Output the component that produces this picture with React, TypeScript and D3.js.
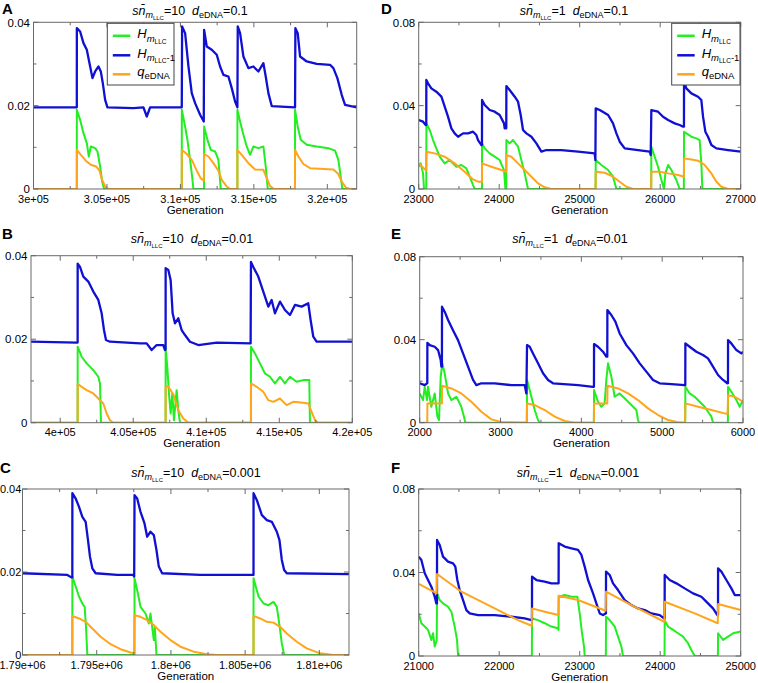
import React from "react";
import * as d3 from "d3";

type Pt = [number, number];

// ---------- Panel A (sn=10, d=0.1) ----------
const A_blue: Pt[] = [[300000,0.0196],[302948,0.0196],[302950,0.0386],[303175,0.0378],[303402,0.035],[303629,0.0334],[303856,0.0294],[304014,0.0266],[304196,0.0282],[304423,0.0294],[304582,0.0282],[304717,0.0254],[304876,0.0214],[305035,0.0196],[306804,0.0194],[307484,0.0196],[307711,0.0174],[307938,0.0196],[310093,0.0196],[310115,0.039],[310320,0.0374],[310547,0.0294],[310773,0.023],[311000,0.0206],[311340,0.0178],[311590,0.0162],[311612,0.0382],[311794,0.0342],[312134,0.0334],[312474,0.0322],[312701,0.0294],[312928,0.0274],[313268,0.027],[313495,0.0242],[313722,0.021],[313880,0.0196],[313903,0.039],[314062,0.0374],[314288,0.0318],[314628,0.029],[314969,0.0294],[315309,0.0282],[315649,0.0302],[315808,0.027],[315989,0.023],[316216,0.0199],[317804,0.0196],[317826,0.0386],[317985,0.0374],[318144,0.0318],[318598,0.0306],[319278,0.030],[320185,0.0298],[320412,0.029],[320684,0.0266],[320979,0.0226],[321206,0.0202],[322000,0.0196]];
const A_green: Pt[] = [[300000,0],[302948,0],[302950,0.019],[303175,0.0166],[303402,0.0134],[303629,0.011],[303765,0.0078],[303901,0.0102],[304196,0.0098],[304355,0.009],[304536,0.0054],[304672,0.0018],[304808,0],[310093,0],[310095,0.019],[310320,0.015],[310479,0.0118],[310660,0.007],[310796,0.003],[310886,0],[311610,0],[311612,0.015],[311839,0.0118],[312066,0.0094],[312361,0.009],[312588,0.007],[312746,0],[313878,0],[313880,0.019],[314062,0.0162],[314288,0.013],[314515,0.0102],[314742,0.0082],[314969,0.0102],[315309,0.0098],[315649,0.0102],[315808,0.0054],[315944,0],[317802,0],[317804,0.019],[317985,0.015],[318190,0.0118],[318598,0.0106],[319278,0.0102],[320072,0.0098],[320525,0.0092],[320752,0.007],[320911,0.003],[321024,0],[322000,0]];
const A_orange: Pt[] = [[300000,0],[302948,0],[302950,0.0094],[303221,0.0082],[303561,0.0068],[303901,0.0058],[304264,0.0054],[304490,0.0044],[304672,0.0022],[304876,0.0006],[305103,0],[310093,0],[310095,0.0094],[310433,0.0084],[310773,0.007],[311113,0.0044],[311385,0.0026],[311590,0.002],[311612,0.0084],[311907,0.0078],[312247,0.0062],[312588,0.0044],[312814,0.0022],[313154,0.0006],[313381,0],[313878,0],[313880,0.0094],[314243,0.0079],[314628,0.0062],[315082,0.0047],[315649,0.0046],[315876,0.0026],[316103,0.0007],[316375,0],[317802,0],[317804,0.0094],[318030,0.0078],[318371,0.006],[318825,0.005],[320412,0.0047],[320752,0.0036],[320979,0.0018],[321274,0.0003],[321546,0],[322000,0]];

// ---------- Panel B (sn=10, d=0.01) ----------
const B_blue: Pt[] = [[398000,0.0194],[401126,0.0192],[401193,0.0192],[401195,0.0381],[401355,0.0373],[401583,0.035],[401925,0.0338],[402267,0.0314],[402610,0.0294],[402838,0.0262],[402998,0.0222],[403134,0.0198],[403408,0.0194],[405462,0.019],[405919,0.019],[406261,0.0174],[406603,0.0186],[407059,0.0186],[407174,0.0174],[407217,0.0176],[407219,0.037],[407402,0.0366],[407561,0.0342],[407698,0.0262],[407858,0.0238],[408086,0.025],[408315,0.0222],[408543,0.021],[408885,0.0194],[409456,0.0186],[410711,0.0192],[413038,0.019],[413061,0.0385],[413221,0.0373],[413563,0.035],[413906,0.0314],[414248,0.0278],[414476,0.0294],[414704,0.0262],[415047,0.029],[415389,0.027],[415731,0.0258],[416074,0.0282],[416530,0.0278],[416986,0.0286],[417146,0.0246],[417329,0.0206],[417557,0.0194],[420000,0.0194]];
const B_green: Pt[] = [[398000,0],[401193,0],[401195,0.0182],[401469,0.0158],[401811,0.0142],[402267,0.0126],[402610,0.011],[402724,0.0094],[402792,0],[407217,0],[407219,0.0178],[407333,0.0134],[407447,0.007],[407561,0.0022],[407675,0.007],[407789,0.0006],[407972,0.0078],[408086,0.003],[408200,0],[413059,0],[413061,0.0182],[413335,0.0166],[413677,0.0142],[414020,0.0118],[414362,0.011],[414704,0.0094],[415047,0.011],[415389,0.0094],[415731,0.011],[416188,0.0098],[416644,0.0102],[417055,0.0102],[417100,0],[420000,0]];
const B_orange: Pt[] = [[398000,0],[401193,0],[401195,0.0093],[401469,0.0086],[401811,0.0078],[402267,0.007],[402610,0.0058],[402952,0.0046],[403180,0.0022],[403408,0.0006],[403637,0],[407217,0],[407219,0.0088],[407402,0.0086],[407744,0.0068],[408086,0.003],[408429,0.001],[408771,0],[413059,0],[413061,0.0094],[413449,0.0086],[413906,0.0074],[414248,0.0054],[414590,0.005],[415047,0.0058],[415503,0.0042],[415959,0.005],[416644,0.0048],[416986,0.0046],[417215,0.0026],[417443,0.0006],[417671,0],[420000,0]];

// ---------- Panel C (sn=10, d=0.001) ----------
const C_blue: Pt[] = [[1790000,0.0197],[1793024,0.0193],[1793293,0.0187],[1793358,0.0187],[1793360,0.039],[1793584,0.0377],[1793808,0.0357],[1794032,0.0333],[1794256,0.0321],[1794413,0.0277],[1794547,0.0237],[1794704,0.0209],[1794928,0.0197],[1796384,0.0193],[1797459,0.0193],[1797526,0.0189],[1797549,0.0385],[1797728,0.0377],[1797952,0.0345],[1798221,0.0317],[1798400,0.0285],[1798624,0.0297],[1798848,0.0289],[1799027,0.0253],[1799184,0.0213],[1799408,0.0197],[1801984,0.0193],[1803776,0.0193],[1805523,0.0193],[1805566,0.0193],[1805568,0.039],[1805792,0.0373],[1806128,0.0337],[1806464,0.0325],[1806800,0.0321],[1807136,0.0297],[1807315,0.0277],[1807472,0.0229],[1807629,0.0205],[1807808,0.0197],[1812000,0.0195]];
const C_green: Pt[] = [[1790000,0],[1793358,0],[1793360,0.0189],[1793584,0.0165],[1793808,0.0141],[1794032,0.0124],[1794189,0.0116],[1794278,0.0068],[1794368,0],[1797547,0],[1797549,0.0185],[1797773,0.0149],[1797952,0.0116],[1798288,0.01],[1798512,0.0076],[1798624,0.01],[1798848,0.0036],[1798915,0.0068],[1799027,0],[1805566,0],[1805568,0.0185],[1805904,0.0141],[1806240,0.0124],[1806576,0.012],[1806912,0.0128],[1807136,0.0116],[1807315,0.0072],[1807472,0.0028],[1807629,0],[1812000,0]];
const C_orange: Pt[] = [[1790000,0],[1793358,0],[1793360,0.0094],[1793808,0.0088],[1794256,0.008],[1794704,0.0064],[1795264,0.0044],[1795936,0.0026],[1796608,0.0014],[1797280,0.0006],[1797526,0.0004],[1797549,0.0096],[1797952,0.0092],[1798400,0.0084],[1798848,0.0072],[1799296,0.0056],[1799968,0.0036],[1800640,0.002],[1801536,0.0008],[1802432,0.0002],[1803104,0],[1805566,0],[1805568,0.0094],[1806016,0.0088],[1806464,0.008],[1806912,0.0078],[1807360,0.0068],[1807808,0.0052],[1808480,0.0032],[1809152,0.0016],[1810048,0.0004],[1810944,0],[1812000,0]];

// ---------- Panel D (sn=1, d=0.1) ----------
const D_blue: Pt[] = [[23000,0.0331],[23054,0.0323],[23087,0.0307],[23094,0.0307],[23095,0.0523],[23116,0.0507],[23157,0.0483],[23219,0.0467],[23282,0.0443],[23323,0.0395],[23364,0.0347],[23406,0.0291],[23447,0.0267],[23489,0.0251],[23551,0.0267],[23613,0.0267],[23675,0.0275],[23716,0.0259],[23737,0.0235],[23779,0.0211],[23786,0.0211],[23787,0.0427],[23820,0.0403],[23882,0.0379],[23944,0.0371],[24006,0.0355],[24060,0.0315],[24068,0.0291],[24088,0.0291],[24089,0.0494],[24130,0.0475],[24193,0.0443],[24234,0.0419],[24267,0.0355],[24296,0.0283],[24338,0.0267],[24400,0.0251],[24462,0.0219],[24524,0.0179],[24586,0.0187],[24772,0.0187],[24979,0.0179],[25186,0.0171],[25195,0.0139],[25199,0.0387],[25249,0.0379],[25353,0.0355],[25414,0.0315],[25456,0.0267],[25497,0.0227],[25559,0.0195],[25725,0.0187],[25870,0.0179],[25882,0.0163],[25890,0.0379],[25973,0.0371],[26035,0.0347],[26098,0.0331],[26180,0.0315],[26242,0.0307],[26284,0.0299],[26295,0.0299],[26296,0.0515],[26325,0.0483],[26387,0.0459],[26470,0.0443],[26511,0.0427],[26532,0.0347],[26561,0.0275],[26594,0.0251],[26636,0.0211],[26698,0.0195],[26843,0.0187],[27000,0.0179]];
const D_green: Pt[] = [[23000,0.0107],[23025,0.0123],[23054,0.0075],[23066,0],[23094,0],[23096,0.0315],[23137,0.0283],[23178,0.0235],[23219,0.0195],[23261,0.0155],[23323,0.0123],[23385,0.0139],[23468,0.0107],[23530,0.0115],[23592,0.0099],[23634,0.0059],[23675,0.0019],[23696,0],[23786,0],[23787,0.0219],[23820,0.0195],[23882,0.0171],[23944,0.0155],[24006,0.0139],[24060,0.0091],[24077,0],[24088,0],[24089,0.0235],[24130,0.0219],[24172,0.0235],[24234,0.0203],[24275,0.0139],[24317,0.0075],[24358,0],[25197,0],[25199,0.0139],[25269,0.0115],[25353,0.0091],[25414,0.0059],[25456,0],[25888,0],[25890,0.0203],[25932,0.0155],[25973,0.0107],[26015,0.0043],[26048,0],[26064,0.0075],[26098,0.0115],[26139,0.0091],[26201,0.0043],[26242,0],[26294,0],[26296,0.0275],[26325,0.0267],[26387,0.0251],[26449,0.0243],[26490,0.0235],[26511,0.0123],[26524,0],[27000,0]];
const D_orange: Pt[] = [[23000,0.0123],[23087,0.0091],[23094,0.0091],[23095,0.0179],[23199,0.0171],[23323,0.0155],[23447,0.0123],[23571,0.0083],[23675,0.0046],[23737,0.0035],[23786,0.0035],[23787,0.0123],[23903,0.0107],[24027,0.0091],[24088,0.0083],[24089,0.0163],[24151,0.0155],[24234,0.0123],[24317,0.0091],[24400,0.0059],[24482,0.0027],[24565,0.0008],[24648,0],[25197,0],[25199,0.0083],[25311,0.0078],[25414,0.0059],[25497,0.0035],[25580,0.0011],[25663,0],[25888,0],[25890,0.0083],[25994,0.0083],[26098,0.0075],[26222,0.0067],[26295,0.0059],[26296,0.0147],[26387,0.0142],[26470,0.0136],[26553,0.0115],[26636,0.0075],[26698,0.0035],[26760,0.0011],[26843,0],[27000,0]];

// ---------- Panel E (sn=1, d=0.01) ----------
const E_blue: Pt[] = [[2000,0.019],[2062,0.0181],[2091,0.019],[2094,0.019],[2095,0.0385],[2124,0.0374],[2186,0.0366],[2227,0.035],[2260,0.0302],[2268,0.027],[2275,0.027],[2276,0.0559],[2309,0.0535],[2351,0.0495],[2412,0.0446],[2474,0.0398],[2536,0.0334],[2598,0.027],[2660,0.0206],[2701,0.0181],[2763,0.019],[2928,0.019],[3134,0.0181],[3299,0.0181],[3320,0.0141],[3328,0.0374],[3361,0.0366],[3402,0.0334],[3464,0.0286],[3526,0.0238],[3588,0.0206],[3650,0.019],[3959,0.0181],[4144,0.0173],[4156,0.0173],[4157,0.0379],[4206,0.0366],[4268,0.0342],[4309,0.0318],[4321,0.0318],[4322,0.0543],[4371,0.0519],[4421,0.0487],[4474,0.043],[4557,0.0374],[4639,0.0334],[4722,0.0286],[4804,0.0246],[4887,0.0206],[4969,0.019],[5114,0.0186],[5278,0.0181],[5286,0.0181],[5287,0.0382],[5340,0.0366],[5423,0.0342],[5505,0.0326],[5567,0.031],[5629,0.027],[5691,0.023],[5753,0.0206],[5806,0.019],[5814,0.019],[5815,0.0398],[5856,0.0382],[5918,0.035],[5980,0.0334],[6000,0.0342]];
const E_green: Pt[] = [[2000,0.0141],[2041,0.0109],[2062,0.0173],[2091,0.0109],[2103,0.0173],[2144,0.0077],[2186,0.0141],[2219,0.0029],[2239,0.0013],[2260,0.0222],[2280,0.0286],[2309,0.0238],[2351,0.0141],[2392,0.0109],[2454,0.0125],[2515,0.0077],[2548,0.0029],[2565,0],[3326,0],[3328,0.0206],[3382,0.0125],[3423,0.0061],[3464,0.0013],[3485,0],[4155,0],[4157,0.0157],[4206,0.0101],[4247,0.0077],[4288,0.0093],[4309,0.0206],[4330,0.0286],[4371,0.0222],[4412,0.0125],[4474,0.0141],[4557,0.0109],[4619,0.0085],[4681,0.0061],[4701,0.0013],[4714,0],[5285,0],[5287,0.0173],[5340,0.0141],[5402,0.0125],[5464,0.0101],[5526,0.0077],[5567,0.0053],[5609,0.0029],[5629,0],[5813,0],[5815,0.0173],[5856,0.0149],[5918,0.0109],[5959,0.0077],[6000,0.0109]];
const E_orange: Pt[] = [[2000,0],[2094,0],[2095,0.0093],[2275,0.0093],[2276,0.0178],[2392,0.0165],[2515,0.0141],[2639,0.0101],[2763,0.0053],[2887,0.0016],[3010,0.0003],[3324,0],[3328,0.0093],[3423,0.0085],[3547,0.0061],[3670,0.0029],[3794,0.0008],[3918,0],[4155,0],[4157,0.0093],[4321,0.0093],[4324,0.0178],[4454,0.0165],[4577,0.0141],[4701,0.0109],[4825,0.0069],[4949,0.0037],[5072,0.0013],[5196,0.0002],[5283,0],[5287,0.0093],[5444,0.0077],[5609,0.0061],[5773,0.0045],[5810,0.0042],[5815,0.0133],[5897,0.0125],[6000,0.0101]];

// ---------- Panel F (sn=1, d=0.001) ----------
const F_blue: Pt[] = [[21000,0.0476],[21033,0.046],[21075,0.0396],[21116,0.0364],[21157,0.0332],[21199,0.0284],[21219,0.0252],[21227,0.0252],[21228,0.0556],[21261,0.0532],[21302,0.0476],[21364,0.0452],[21427,0.0444],[21455,0.0428],[21480,0.0364],[21509,0.0316],[21551,0.0268],[21592,0.022],[21634,0.0204],[21737,0.0196],[21944,0.0196],[22151,0.0188],[22317,0.018],[22400,0.0172],[22407,0.0172],[22408,0.038],[22462,0.0364],[22565,0.0356],[22648,0.0348],[22731,0.0348],[22738,0.0348],[22739,0.054],[22814,0.0524],[22897,0.0516],[22979,0.0508],[23021,0.0484],[23062,0.0428],[23104,0.0364],[23166,0.03],[23207,0.0252],[23249,0.0204],[23290,0.0196],[23323,0.0204],[23326,0.0204],[23327,0.0404],[23373,0.0388],[23414,0.0348],[23476,0.0316],[23559,0.0268],[23642,0.0244],[23725,0.0228],[23808,0.022],[23890,0.0204],[23994,0.0196],[24048,0.018],[24055,0.018],[24056,0.0388],[24118,0.0364],[24201,0.0348],[24304,0.0324],[24408,0.03],[24512,0.0284],[24594,0.0252],[24656,0.0228],[24710,0.0196],[24718,0.0196],[24719,0.042],[24760,0.0404],[24822,0.0364],[24884,0.0324],[24926,0.0292],[25000,0.0292]];
const F_green: Pt[] = [[21000,0.0204],[21033,0.0157],[21075,0.0141],[21116,0.0125],[21157,0.0077],[21178,0.0109],[21199,0.0045],[21224,0.0077],[21228,0.03],[21261,0.0268],[21302,0.0252],[21364,0.0236],[21406,0.0212],[21447,0.0141],[21476,0.0077],[21489,0],[22406,0],[22408,0.018],[22482,0.0172],[22565,0.0157],[22648,0.0141],[22731,0.0133],[22737,0.0125],[22739,0.0284],[22814,0.0292],[22897,0.0284],[22971,0.0284],[23000,0.0204],[23029,0.0109],[23054,0.0045],[23062,0],[23325,0],[23327,0.0188],[23373,0.0172],[23435,0.0141],[23476,0.0093],[23518,0.0045],[23538,0],[24054,0],[24056,0.0172],[24097,0.0141],[24160,0.0125],[24222,0.0109],[24284,0.0093],[24346,0.0061],[24387,0.0029],[24429,0],[24717,0],[24719,0.0109],[24781,0.0077],[24843,0.0093],[24905,0.0109],[25000,0.0117]];
const F_orange: Pt[] = [[21000,0.0345],[21224,0.03],[21228,0.0393],[21530,0.0308],[21944,0.0228],[22234,0.0172],[22404,0.0145],[22408,0.0228],[22565,0.0212],[22735,0.0196],[22739,0.0289],[22979,0.0268],[23323,0.0217],[23327,0.0308],[23642,0.0244],[24052,0.0164],[24056,0.026],[24429,0.0204],[24715,0.0157],[24719,0.0249],[25000,0.022]];

// ---------- axes ----------
const xTicksA = [300000, 305000, 310000, 315000, 320000];
const xLabelsA = ["3e+05", "3.05e+05", "3.1e+05", "3.15e+05", "3.2e+05"];
const xMinorA = [302500, 307500, 312500, 317500];
const xTicksB = [400000, 405000, 410000, 415000, 420000];
const xLabelsB = ["4e+05", "4.05e+05", "4.1e+05", "4.15e+05", "4.2e+05"];
const xMinorB = [402500, 407500, 412500, 417500];
const xTicksC = [1790000, 1795000, 1800000, 1805000, 1810000];
const xLabelsC = ["1.79e+06", "1.795e+06", "1.8e+06", "1.805e+06", "1.81e+06"];
const xMinorC = [1792500, 1797500, 1802500, 1807500];
const xTicksD = [23000, 24000, 25000, 26000, 27000];
const xTicksE = [2000, 3000, 4000, 5000, 6000];
const xTicksF = [21000, 22000, 23000, 24000, 25000];
const yTicksLeft = [0, 0.02, 0.04];
const yLabelsLeft = ["0", "0.02", "0.04"];
const yMinorLeft = [0.01, 0.03];
const yTicksRight = [0, 0.04, 0.08];
const yLabelsRight = ["0", "0.04", "0.08"];
const yMinorRight = [0.02, 0.06];

const snValues = ["10", "10", "10", "1", "1", "1"];
const dValues = ["0.1", "0.01", "0.001", "0.1", "0.01", "0.001"];
const panelLabels = ["A", "B", "C", "D", "E", "F"];

const GREEN = "#22ee22";
const BLUE = "#1010d2";
const ORANGE = "#ffa51c";
const FRAME = "#6a6a6a";
const FONT = "'Liberation Sans', Arial, Helvetica, sans-serif";

interface PanelCfg {
  idx: number;
  frame: [number, number, number, number];
  xDomain: [number, number];
  yMax: number;
  xTicks: number[]; xLabels: string[]; xMinor: number[];
  yTicks: number[]; yLabels: string[]; yMinor: number[];
  green: Pt[]; blue: Pt[]; orange: Pt[];
  titleX: number; titleY: number;
  labelX: number; labelY: number;
  yGap: number; yFont: number;
  legend?: [number, number, number, number];
}

const panels: PanelCfg[] = [
  { idx: 0, frame: [33.5, 356.7, 22.3, 189], xDomain: [300000, 322000], yMax: 0.04,
    xTicks: xTicksA, xLabels: xLabelsA, xMinor: xMinorA, yTicks: yTicksLeft, yLabels: yLabelsLeft, yMinor: yMinorLeft,
    green: A_green, blue: A_blue, orange: A_orange, titleX: 190, titleY: 15, labelX: 2, labelY: 14, yGap: 3.5, yFont: 11.5,
    legend: [107.3, 23.3, 66.7, 61.7] },
  { idx: 1, frame: [31, 352.3, 255.7, 422.7], xDomain: [398000, 420000], yMax: 0.04,
    xTicks: xTicksB, xLabels: xLabelsB, xMinor: xMinorB, yTicks: yTicksLeft, yLabels: yLabelsLeft, yMinor: yMinorLeft,
    green: B_green, blue: B_blue, orange: B_orange, titleX: 192, titleY: 243, labelX: 2, labelY: 239, yGap: 3.5, yFont: 11.5 },
  { idx: 2, frame: [22.5, 349, 489, 655], xDomain: [1790000, 1812000], yMax: 0.04,
    xTicks: xTicksC, xLabels: xLabelsC, xMinor: xMinorC, yTicks: yTicksLeft, yLabels: yLabelsLeft, yMinor: yMinorLeft,
    green: C_green, blue: C_blue, orange: C_orange, titleX: 196, titleY: 477, labelX: 0, labelY: 473, yGap: 1.2, yFont: 11 },
  { idx: 3, frame: [418.7, 740.7, 22.3, 189], xDomain: [23000, 27000], yMax: 0.08,
    xTicks: xTicksD, xLabels: xTicksD.map(String), xMinor: xTicksD.slice(0, 4).map(v => v + 500), yTicks: yTicksRight, yLabels: yLabelsRight, yMinor: yMinorRight,
    green: D_green, blue: D_blue, orange: D_orange, titleX: 574, titleY: 15, labelX: 381, labelY: 14, yGap: 3.5, yFont: 11.5,
    legend: [671.7, 23.3, 68.3, 61.7] },
  { idx: 4, frame: [419.7, 743, 256.7, 422.7], xDomain: [2000, 6000], yMax: 0.08,
    xTicks: xTicksE, xLabels: xTicksE.map(String), xMinor: xTicksE.slice(0, 4).map(v => v + 500), yTicks: yTicksRight, yLabels: yLabelsRight, yMinor: yMinorRight,
    green: E_green, blue: E_blue, orange: E_orange, titleX: 570, titleY: 243, labelX: 391, labelY: 239, yGap: 3.5, yFont: 11.5 },
  { idx: 5, frame: [418.7, 740.7, 489, 656], xDomain: [21000, 25000], yMax: 0.08,
    xTicks: xTicksF, xLabels: xTicksF.map(String), xMinor: xTicksF.slice(0, 4).map(v => v + 500), yTicks: yTicksRight, yLabels: yLabelsRight, yMinor: yMinorRight,
    green: F_green, blue: F_blue, orange: F_orange, titleX: 578, titleY: 477, labelX: 391, labelY: 473, yGap: 3.5, yFont: 11.5 },
];

function HLabel({ x, y, minus }: { x: number; y: number; minus?: boolean }) {
  return (
    <text x={x} y={y} fontFamily={FONT} fontSize={13} fill="#000">
      <tspan fontStyle="italic">H</tspan>
      <tspan fontStyle="italic" fontSize={9.5} dy={3.5}>m</tspan>
      <tspan fontSize={6.5} dy={2}>LLC</tspan>
      {minus ? <tspan fontSize={9.5} dy={-2}>-1</tspan> : null}
    </text>
  );
}

function Panel({ p }: { p: PanelCfg }) {
  const [l, r, t, b] = p.frame;
  const x = d3.scaleLinear().domain(p.xDomain).range([l, r]);
  const y = d3.scaleLinear().domain([0, p.yMax]).range([b, t]);
  const line = d3.line<Pt>().x(d => x(d[0])).y(d => y(d[1]));
  const clipId = `clip${p.idx}`;
  const maj = 5, min = 3;
  const ticks: JSX.Element[] = [];
  p.xTicks.forEach((v, i) => {
    const xx = x(v);
    ticks.push(<line key={`xb${i}`} x1={xx} x2={xx} y1={b} y2={b - maj} />);
    ticks.push(<line key={`xt${i}`} x1={xx} x2={xx} y1={t} y2={t + maj} />);
  });
  p.xMinor.forEach((v, i) => {
    const xx = x(v);
    ticks.push(<line key={`xmb${i}`} x1={xx} x2={xx} y1={b} y2={b - min} />);
    ticks.push(<line key={`xmt${i}`} x1={xx} x2={xx} y1={t} y2={t + min} />);
  });
  p.yTicks.forEach((v, i) => {
    const yy = y(v);
    ticks.push(<line key={`yl${i}`} x1={l} x2={l + maj} y1={yy} y2={yy} />);
    ticks.push(<line key={`yr${i}`} x1={r} x2={r - maj} y1={yy} y2={yy} />);
  });
  p.yMinor.forEach((v, i) => {
    const yy = y(v);
    ticks.push(<line key={`yml${i}`} x1={l} x2={l + min} y1={yy} y2={yy} />);
    ticks.push(<line key={`ymr${i}`} x1={r} x2={r - min} y1={yy} y2={yy} />);
  });
  const lg = p.legend;
  return (
    <g>
      <defs>
        <clipPath id={clipId}><rect x={l} y={t} width={r - l} height={b - t} /></clipPath>
      </defs>
      <text x={p.labelX} y={p.labelY} fontFamily={FONT} fontSize={15} fontWeight="bold">{panelLabels[p.idx]}</text>
      <text x={p.titleX} y={p.titleY} fontFamily={FONT} fontSize={12.5} textAnchor="middle">
        <tspan fontStyle="italic">s</tspan>
        <tspan fontStyle="italic">{"n\u0304"}</tspan>
        <tspan fontStyle="italic" fontSize={9} dy={3}>m</tspan>
        <tspan fontSize={6} dy={2}>LLC</tspan>
        <tspan dy={-5}>{"=" + snValues[p.idx] + "\u00a0\u00a0"}</tspan>
        <tspan fontStyle="italic">d</tspan>
        <tspan fontSize={9} dy={3}>eDNA</tspan>
        <tspan dy={-3}>{"=" + dValues[p.idx]}</tspan>
      </text>
      <g clipPath={`url(#${clipId})`} fill="none" strokeLinejoin="round">
        <path d={line(p.green) || ""} stroke={GREEN} strokeWidth={2} />
        <path d={line(p.blue) || ""} stroke={BLUE} strokeWidth={2.3} />
        <path d={line(p.orange) || ""} stroke={ORANGE} strokeWidth={2} />
      </g>
      <g stroke={FRAME} strokeWidth={1}>{ticks}</g>
      <rect x={l} y={t} width={r - l} height={b - t} fill="none" stroke={FRAME} strokeWidth={1} />
      {p.xTicks.map((v, i) => (
        <text key={`xl${i}`} x={x(v)} y={b + 13.5} fontFamily={FONT} fontSize={11} textAnchor="middle">{p.xLabels[i]}</text>
      ))}
      {p.yTicks.map((v, i) => (
        <text key={`yl${i}`} x={l - p.yGap} y={y(v) + 4.2} fontFamily={FONT} fontSize={p.yFont} textAnchor="end">{p.yLabels[i]}</text>
      ))}
      <text x={(l + r) / 2} y={b + 24.5} fontFamily={FONT} fontSize={11.5} textAnchor="middle">Generation</text>
      {lg ? (
        <g>
          <rect x={lg[0]} y={lg[1]} width={lg[2]} height={lg[3]} fill="#fff" stroke="#444" strokeWidth={1} />
          <line x1={lg[0] + 5.5} x2={lg[0] + 23} y1={lg[1] + 12.5} y2={lg[1] + 12.5} stroke={GREEN} strokeWidth={2.5} />
          <line x1={lg[0] + 5.5} x2={lg[0] + 23} y1={lg[1] + 32} y2={lg[1] + 32} stroke={BLUE} strokeWidth={2.5} />
          <line x1={lg[0] + 5.5} x2={lg[0] + 23} y1={lg[1] + 51} y2={lg[1] + 51} stroke={ORANGE} strokeWidth={2.5} />
          <HLabel x={lg[0] + 30} y={lg[1] + 15} />
          <HLabel x={lg[0] + 30} y={lg[1] + 34.5} minus />
          <text x={lg[0] + 30} y={lg[1] + 53} fontFamily={FONT} fontSize={13}>
            <tspan fontStyle="italic">q</tspan>
            <tspan fontSize={9.5} dy={3}>eDNA</tspan>
          </text>
        </g>
      ) : null}
    </g>
  );
}

export default function App() {
  return (
    <svg width={758} height={683} viewBox="0 0 758 683" style={{ position: "absolute", left: 0, top: 0, background: "#fff" }}>
      <rect x={0} y={0} width={758} height={683} fill="#fff" />
      {panels.map(p => <Panel key={p.idx} p={p} />)}
    </svg>
  );
}
